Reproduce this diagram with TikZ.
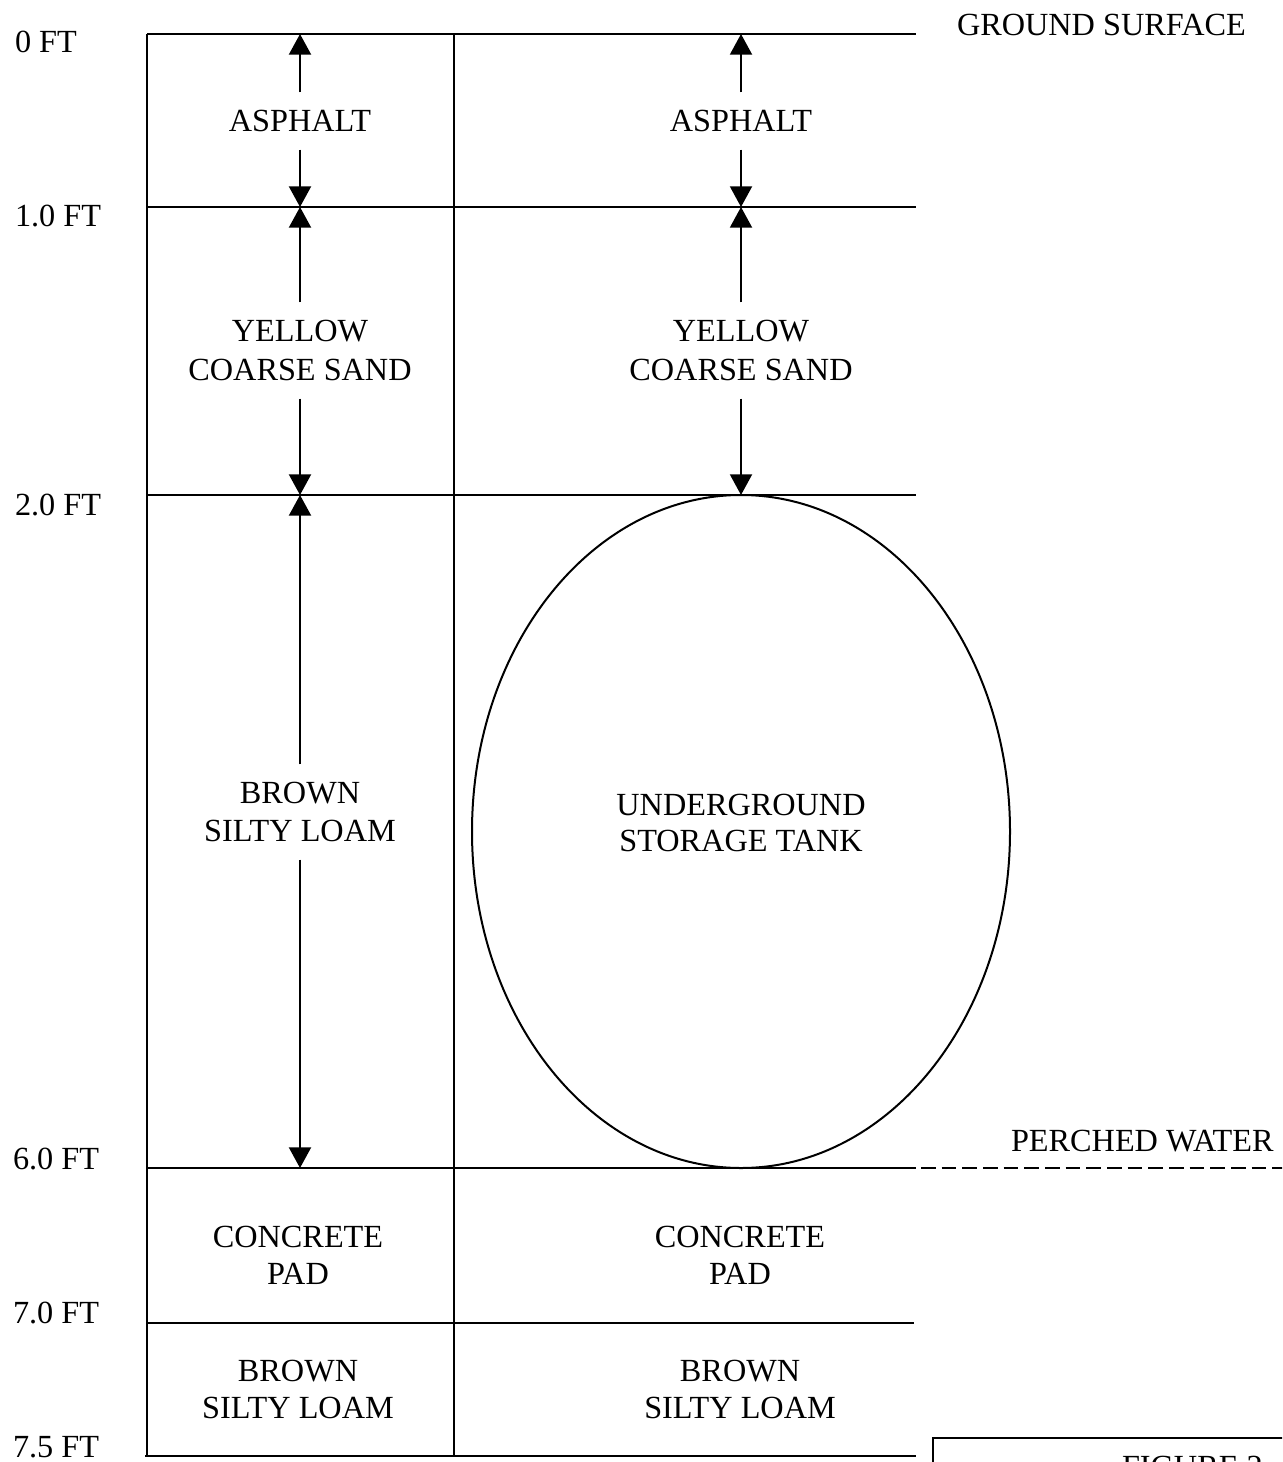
\documentclass[tikz,border=0pt]{standalone}
\usepackage{fontspec}
\setmainfont{Liberation Serif}
\usetikzlibrary{arrows.meta,shapes.geometric}
\begin{document}
\begin{tikzpicture}[x=0.75pt,y=-0.75pt,line width=1.5pt,
  txtfont/.style={font=\fontsize{24.2}{28}\selectfont},
  lbl/.style={txtfont,inner xsep=0pt,inner ysep=13.5pt,outer sep=0pt,text height=15.8pt,text depth=0pt},
  deplbl/.style={txtfont,anchor=base west,inner sep=0pt},
  dimarrow/.style={-{Triangle[width=16.5pt,length=15.5pt]},line width=1.5pt},
  layerline/.style={line width=1.5pt},
  waterline/.style={line width=1.5pt,dash pattern=on 11pt off 4.5pt}]
\useasboundingbox (0,0) rectangle (1282,1462);
\begin{scope}
\clip (0,0) rectangle (1282,1462);
% layer boundary coordinates
\coordinate (g0l) at (147,34);    \coordinate (g0r) at (916,34);
\coordinate (g1l) at (147,207);   \coordinate (g1r) at (916,207);
\coordinate (g2l) at (147,495);   \coordinate (g2r) at (916,495);
\coordinate (g6l) at (147,1168);  \coordinate (g6r) at (916,1168);
\coordinate (g6s) at (921,1168);  \coordinate (g6e) at (1284,1168);
\coordinate (g7l) at (147,1323);  \coordinate (g7r) at (914,1323);
\coordinate (g8l) at (145,1456);  \coordinate (g8r) at (916,1456);
\coordinate (d0) at (454,34);     \coordinate (d8) at (454,1456);
% arrow end points
\coordinate (la0) at (300,34);  \coordinate (la1) at (300,207);
\coordinate (la2) at (300,495); \coordinate (la6) at (300,1168);
\coordinate (ra0) at (741,34);  \coordinate (ra1) at (741,207);
% frame and layer lines
\draw[layerline] (g0l) -- (147,1456);
\draw[layerline] (d0) -- (d8);
\draw[layerline] (g0l) -- (g0r);
\draw[layerline] (g1l) -- (g1r);
\draw[layerline] (g2l) -- (g2r);
\draw[layerline] (g6l) -- (g6r);
\draw[waterline] (g6s) -- (g6e);
\draw[layerline] (g7l) -- (g7r);
\draw[layerline] (g8l) -- (g8r);
% tank
\node[draw,ellipse,minimum width=403.5pt,minimum height=504.75pt,inner sep=0pt,outer sep=0pt] (tank) at (741,831.5) {};
\node[lbl] (tk1) at (741,805) {UNDERGROUND};
\node[lbl] (tk2) at (741,841) {STORAGE TANK};
% left column labels
\node[lbl] (lasph) at (300,121) {ASPHALT};
\node[lbl] (lys1) at (300,331) {YELLOW};
\node[lbl] (lys2) at (300,370) {COARSE SAND};
\node[lbl] (lbr1) at (300,793) {BROWN};
\node[lbl] (lbr2) at (300,831) {SILTY LOAM};
\node[lbl] (lcp1) at (298,1237) {CONCRETE};
\node[lbl] (lcp2) at (298,1274) {PAD};
\node[lbl] (lbl1) at (298,1371) {BROWN};
\node[lbl] (lbl2) at (298,1408) {SILTY LOAM};
% right column labels
\node[lbl] (rasph) at (741,121) {ASPHALT};
\node[lbl] (rys1) at (741,331) {YELLOW};
\node[lbl] (rys2) at (741,370) {COARSE SAND};
\node[lbl] (rcp1) at (740,1237) {CONCRETE};
\node[lbl] (rcp2) at (740,1274) {PAD};
\node[lbl] (rbl1) at (740,1371) {BROWN};
\node[lbl] (rbl2) at (740,1408) {SILTY LOAM};
% dimension arrows
\draw[dimarrow] (lasph.north) -- (la0);
\draw[dimarrow] (lasph.south) -- (la1);
\draw[dimarrow] (lys1.north) -- (la1);
\draw[dimarrow] (lys2.south) -- (la2);
\draw[dimarrow] (lbr1.north) -- (la2);
\draw[dimarrow] (lbr2.south) -- (la6);
\draw[dimarrow] (rasph.north) -- (ra0);
\draw[dimarrow] (rasph.south) -- (ra1);
\draw[dimarrow] (rys1.north) -- (ra1);
\draw[dimarrow] (rys2.south) -- (tank.north);
% depth labels
\node[deplbl] (ft0) at (14,53) {0 FT};
\node[deplbl] (ft1) at (14,227) {1.0 FT};
\node[deplbl] (ft2) at (14,515) {2.0 FT};
\node[deplbl] (ft6) at (12,1169) {6.0 FT};
\node[deplbl] (ft7) at (12,1323) {7.0 FT};
\node[deplbl] (ft75) at (12,1457) {7.5 FT};
% side labels
\node[deplbl] (gs) at (956,36) {GROUND SURFACE};
\node[deplbl] (pw) at (1010,1151) {PERCHED WATER};
% figure box
\draw[line width=1.5pt] (1300,1438) -- (933,1438) -- (933,1500);
\node[deplbl] (fig) at (1121,1477) {FIGURE 2};
\end{scope}
\end{tikzpicture}
\end{document}
